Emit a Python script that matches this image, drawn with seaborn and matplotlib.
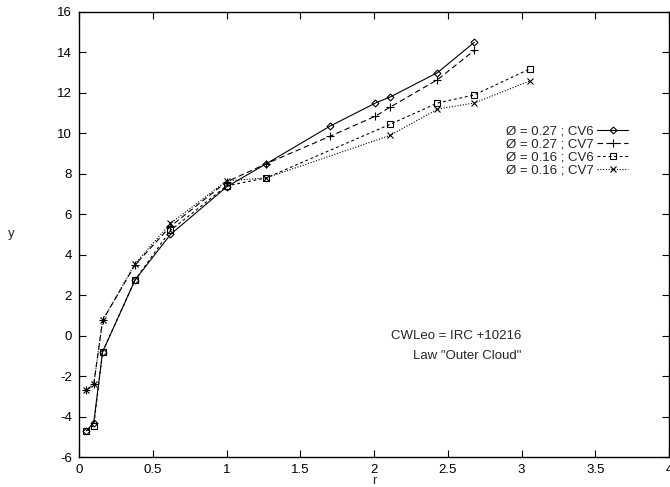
import matplotlib
matplotlib.use("Agg")
import matplotlib.pyplot as plt
import seaborn as sns

# data
r_a = [0.05, 0.10, 0.16, 0.38, 0.62, 1.00, 1.27, 1.70, 2.01, 2.11, 2.43, 2.68]
y_027_cv6 = [-4.7, -4.3, -0.8, 2.75, 5.0, 7.35, 8.5, 10.35, 11.5, 11.8, 13.0, 14.5]
y_027_cv7 = [-2.7, -2.4, 0.75, 3.5, 5.4, 7.6, 8.5, 9.85, 10.85, 11.3, 12.65, 14.1]

r_b = [0.05, 0.10, 0.16, 0.38, 0.62, 1.00, 1.27, 2.11, 2.43, 2.68, 3.06]
y_016_cv6 = [-4.7, -4.45, -0.8, 2.75, 5.2, 7.4, 7.8, 10.45, 11.5, 11.9, 13.2]
y_016_cv7 = [-2.7, -2.4, 0.75, 3.55, 5.55, 7.65, 7.8, 9.9, 11.2, 11.5, 12.6]

labels = ["Ø = 0.27 ; CV6", "Ø = 0.27 ; CV7", "Ø = 0.16 ; CV6", "Ø = 0.16 ; CV7"]
xticks = [0, 0.5, 1, 1.5, 2, 2.5, 3, 3.5, 4]
yticks = [-6, -4, -2, 0, 2, 4, 6, 8, 10, 12, 14, 16]

sns.set_style("ticks")
plt.rcParams["font.family"] = ["Liberation Sans", "DejaVu Sans"]
plt.rcParams["axes.unicode_minus"] = False
fs = 9.5
plt.rcParams["font.size"] = fs

fig = plt.figure(figsize=(6.7, 4.87), dpi=100)
ax = fig.add_axes([79 / 670, 1 - 457 / 487, 590 / 670, 445 / 487])

series = [
    (r_a, y_027_cv6, "-", "D", 3.5),
    (r_a, y_027_cv7, (0, (5, 3)), "+", 6),
    (r_b, y_016_cv6, (0, (2.5, 2.5)), "s", 5),
    (r_b, y_016_cv7, (0, (1, 1.5)), "x", 5),
]
for (x, y, ls, mk, ms), lab in zip(series, labels):
    sns.lineplot(x=x, y=y, ax=ax, color="black", linestyle=ls, linewidth=0.8,
                 marker=mk, markersize=ms, markerfacecolor="none",
                 markeredgecolor="black", markeredgewidth=0.8, label=lab)

ax.set_xlim(0, 4)
ax.set_ylim(-6, 16)
ax.set_xticks(xticks)
ax.set_xticklabels([f"{t:g}" for t in xticks])
ax.set_yticks(yticks)
ax.set_yticklabels([f"{t:g}" for t in yticks])
ax.tick_params(direction="in", top=True, right=True, length=5, width=0.8,
               labelsize=fs, pad=5, colors="black")
for s in ax.spines.values():
    s.set_linewidth(1.0)
    s.set_color("black")

ax.set_xlabel("r", labelpad=-1)
ax.set_ylabel("y", rotation=0, va="center")
ax.yaxis.set_label_coords(-0.115, 0.5)

ax.text(3.0, 0.0, "CWLeo = IRC +10216", ha="right", va="center", fontsize=fs)
ax.text(3.0, -1.0, 'Law "Outer Cloud"', ha="right", va="center", fontsize=fs)

ax.legend(loc="upper right", bbox_to_anchor=(0.93, 0.745), frameon=False,
          markerfirst=False, handlelength=2.3, handletextpad=0.3,
          labelspacing=0.05, borderpad=0, borderaxespad=0, fontsize=fs)

fig.savefig("out.png", dpi=100)
